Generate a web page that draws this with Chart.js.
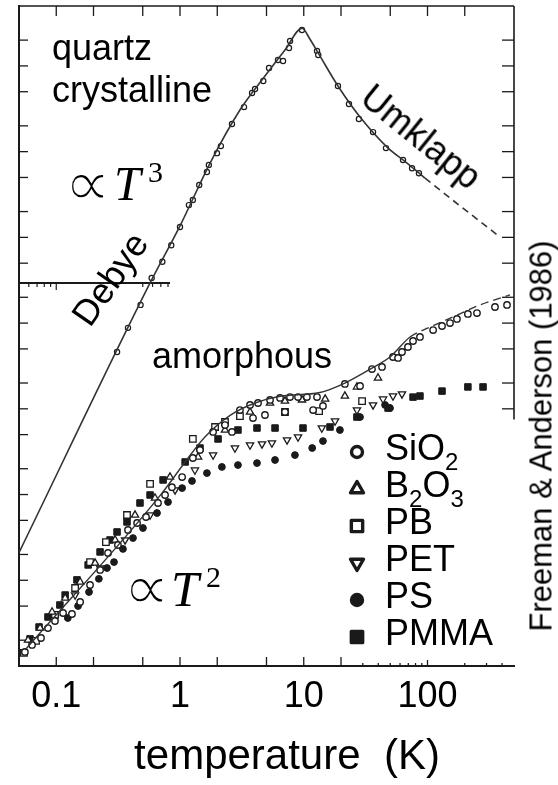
<!DOCTYPE html>
<html><head><meta charset="utf-8">
<script src="https://cdn.jsdelivr.net/npm/chart.js@4.4.0/dist/chart.umd.min.js"></script>
<style>
html,body{margin:0;padding:0;background:#fff;}
#wrap{position:relative;width:558px;height:785px;overflow:hidden;font-family:'Liberation Sans',Arial,sans-serif;color:#000;}
#c{position:absolute;left:0;top:0;}
.t{position:absolute;white-space:nowrap;font-size:36px;line-height:36px;}
.r{position:absolute;white-space:nowrap;line-height:1;transform-origin:50% 50%;}
.sym{position:absolute;white-space:nowrap;font-family:'DejaVu Sans',sans-serif;font-size:66px;line-height:66px;-webkit-text-stroke:2px #fff;}
.mt{position:absolute;white-space:nowrap;font-family:'Liberation Serif',serif;font-style:italic;}
.sp{position:absolute;white-space:nowrap;font-family:'Liberation Serif',serif;font-size:30px;line-height:30px;}
sub{font-size:24px;line-height:0;vertical-align:-10px;}
</style></head><body>
<div id="wrap">
<canvas id="c" width="558" height="785"></canvas>
<div class="t" style="left:52px;top:30px">quartz</div>
<div class="t" style="left:52px;top:72px">crystalline</div>
<div class="sym" style="left:64px;top:151px">∝</div>
<div class="mt" style="left:114px;top:160px;font-size:48px;line-height:48px">T</div>
<div class="sp" style="left:148px;top:157px">3</div>
<div class="r" style="left:110px;top:279px;font-size:36px;transform:translate(-50%,-50%) rotate(-55deg)">Debye</div>
<div class="r" style="left:421px;top:137px;font-size:36px;transform:translate(-50%,-50%) rotate(39deg)">Umklapp</div>
<div class="t" style="left:152px;top:338px">amorphous</div>
<div class="sym" style="left:123px;top:555px">∝</div>
<div class="mt" style="left:171px;top:564px;font-size:50px;line-height:50px">T</div>
<div class="sp" style="left:206px;top:562px">2</div>
<div class="t" style="left:385px;top:430px">SiO<sub>2</sub></div>
<div class="t" style="left:385px;top:467px">B<sub>2</sub>O<sub>3</sub></div>
<div class="t" style="left:385px;top:504px">PB</div>
<div class="t" style="left:385px;top:541px">PET</div>
<div class="t" style="left:385px;top:578px">PS</div>
<div class="t" style="left:385px;top:615px">PMMA</div>
<div class="r" style="left:541px;top:436px;font-size:31px;transform:translate(-50%,-50%) rotate(-90deg)">Freeman &amp; Anderson (1986)</div>
</div>
<script>
// ---- axis ticks / labels ----
const xTickValues = [0.1, 1, 10, 100];
const xTickLabels = ['0.1', '1', '10', '100'];
const axisTitle = 'temperature  (K)';

// ---- crystalline quartz: measured points ----
const quartzT = [0.31,0.38,0.48,0.59,0.72,0.85,1.0,1.18,1.27,1.43,1.65,1.71,1.99,2.14,2.63,3.29,3.82,4.04,4.71,5.24,6.19,6.80,7.60,7.75,9.68,12.8,13.1,18.9,23.2,27.9,36.3,46.2,63.4,75,85.3];
const quartzK = [0.46,0.88,1.63,3.36,5.2,8.1,13.2,23.8,27.3,40.8,58,70,96,116,210,331,483,537,667,944,1172,1140,1618,1950,2620,1492,1340,583,359,240,169,110,80,64,56];
// crystalline quartz: curve
const quartzFitT = [0.05,0.573,1.0,1.75,3.05,4.86,7.05,9.7,11.2,13.1,18.9,28.5,47.1,68.3,95.4,385];
const quartzFitK = [0.0021,2.94,13.6,73.6,306,762,1532,2750,2060,1413,583,253,113,73.6,49.2,10.1];

// ---- amorphous SiO2 curve ----
const glassFitT = [0.0559,0.716,1.10,1.59,2.54,4.04,6.43,13.5,21.5,35.6,49.8,72.2,105,161,266,464];
const glassFitK = [1.54e-4,0.0104,0.024,0.047,0.084,0.117,0.140,0.155,0.200,0.299,0.402,0.689,0.90,1.18,1.63,2.13];

// ---- amorphous solids: measured points ----
const sio2T = [0.0558,0.0637,0.0753,0.0857,0.0977,0.1135,0.134,0.156,0.1875,0.226,0.262,0.315,0.380,0.450,0.531,0.664,0.757,0.861,1.04,1.27,1.45,1.85,2.31,2.63,3.05,3.68,3.89,4.27,4.86,5.34,6.43,7.05,7.74,8.99,10.6,11.9,12.8,14.3,21.5,28.5,35.6,42.9,52.6,57.8,62.2,69.5,76.4,86.9,111,131,152,173,212,251,351,439];
const sio2K = [1.46e-4,1.76e-4,2.12e-4,2.77e-4,3.35e-4,4.15e-4,4.04e-4,5.58e-4,8.81e-4,1.32e-3,2.08e-3,2.58e-3,3.86e-3,4.66e-3,5.47e-3,7.97e-3,9.88e-3,1.22e-2,1.60e-2,2.67e-2,3.31e-2,5.37e-2,6.47e-2,5.37e-2,9.68e-2,0.111,7.81e-2,0.117,8.47e-2,0.127,0.134,9.18e-2,0.137,0.137,0.137,9.68e-2,0.137,0.108,0.195,0.185,0.291,0.308,0.402,0.392,0.460,0.526,0.618,0.689,0.830,0.925,1.00,1.12,1.28,1.31,1.54,1.63];
const b2o3T = [0.0592,0.0740,0.0925,0.118,0.156,0.206,0.299,0.433,0.628,0.830,1.40,2.31,3.68,5.34,7.05,9.68,14.9,21.5,26.9,39.8];
const b2o3K = [2.01e-4,2.77e-4,4.27e-4,6.21e-4,9.55e-4,1.59e-3,2.95e-3,5.77e-3,9.12e-3,1.60e-2,2.74e-2,5.66e-2,9.18e-2,0.117,0.123,0.127,0.130,0.141,0.180,0.229];
const pbT = [0.0548,0.0686,0.0977,0.142,0.1875,0.252,0.373,0.573,1.27,1.92,2.31,3.05,7.05,13.3,29.6];
const pbK = [1.42e-4,1.96e-4,3.94e-4,8.13e-4,1.63e-3,2.79e-3,5.77e-3,1.33e-2,4.45e-2,6.14e-2,7.02e-2,8.24e-2,9.18e-2,9.42e-2,0.123];
const petT = [0.0673,0.0977,0.142,0.226,0.360,0.573,0.912,1.32,1.85,2.78,3.68,4.60,5.53,7.33,8.99,14.0,17.9,26.9,36.3,43.7,52.6,62.2];
const petK = [2.01e-4,3.63e-4,6.73e-4,1.39e-3,2.95e-3,5.77e-3,1.13e-2,1.93e-2,2.89e-2,3.49e-2,3.78e-2,3.89e-2,3.99e-2,4.33e-2,4.69e-2,5.97e-2,7.21e-2,9.68e-2,0.111,0.130,0.141,0.149];
const psT = [0.124,0.150,0.184,0.221,0.257,0.293,0.346,0.417,0.502,0.652,0.800,1.04,1.25,1.65,2.18,2.94,4.19,5.86,8.49,11.7,14.3,19.6,28.5,45.4,49.8];
const psK = [3.63e-4,5.01e-4,7.30e-4,1.04e-3,1.39e-3,1.63e-3,2.32e-3,3.11e-3,4.07e-3,6.09e-3,8.18e-3,1.19e-2,1.44e-2,1.78e-2,2.10e-2,2.21e-2,2.33e-2,2.53e-2,2.89e-2,3.49e-2,4.21e-2,5.66e-2,8.02e-2,0.111,0.102];
const pmmaT = [0.0614,0.0726,0.0857,0.107,0.118,0.147,0.181,0.226,0.272,0.310,0.373,0.475,0.573,0.730,1.10,1.45,2.03,2.94,4.19,5.86,9.86,16.3,26.9,48.0,76.4,86.9,131,212,281];
const pmmaK = [2.07e-4,2.85e-4,3.73e-4,5.15e-4,6.73e-4,1.01e-3,1.51e-3,2.14e-3,2.95e-3,3.66e-3,4.79e-3,7.97e-3,9.88e-3,1.48e-2,2.40e-2,3.49e-2,4.45e-2,5.66e-2,5.97e-2,5.97e-2,5.97e-2,6.14e-2,8.02e-2,0.102,0.137,0.141,0.161,0.180,0.180];

// ---- frame decorations (axis tick positions) ----
const yFrameTicks = [1e-4,2e-4,5e-4,1e-3,2e-3,5e-3,1e-2,2e-2,5e-2,0.1,0.2,0.5,1,2,5,10,20,50,100,200,500,1000,2000];
const xTopTicks = [0.1,0.2,0.5,1,2,5,10,20,50,100,200];
const xBottomTicks = [0.1,0.2,0.5,1,2,5,10,20];
const xBottomMinor = [30,40,50,60,70,80,90,100,200,300,400];
const rightAxisEndK = 0.075;
const panelAxisK = 2.94, panelAxisEndT = 0.83;
const panelMinor = [0.06,0.07,0.08,0.09,0.1,0.5,0.6,0.7,0.8];

const pts = (xs, ys) => xs.map((x, i) => ({x: x, y: ys[i]}));
const INK = '#1a1a1a';

function mark(ctx, style, x, y, r, rot, filled, lw) {
  ctx.save(); ctx.translate(x, y); ctx.rotate((rot || 0) * Math.PI / 180); ctx.beginPath();
  if (style === 'circle') ctx.arc(0, 0, r, 0, 2 * Math.PI);
  else if (style === 'rect') { const s = r / Math.SQRT2; ctx.rect(-s, -s, 2 * s, 2 * s); }
  else { for (let i = 0; i < 3; i++) { const a = i * 2 * Math.PI / 3; const px = Math.sin(a) * r, py = -Math.cos(a) * r; if (i) ctx.lineTo(px, py); else ctx.moveTo(px, py); } ctx.closePath(); }
  ctx.fillStyle = filled ? INK : '#fff'; ctx.fill();
  ctx.lineWidth = lw; ctx.lineJoin = 'round'; ctx.strokeStyle = INK; ctx.stroke(); ctx.restore();
}

const framePlugin = {
  id: 'frame',
  beforeDatasetsDraw(chart) {
    const {ctx, chartArea: a, scales: {x, y}} = chart;
    const L = (x1, y1, x2, y2) => { ctx.beginPath(); ctx.moveTo(x1, y1); ctx.lineTo(x2, y2); ctx.stroke(); };
    ctx.save(); ctx.strokeStyle = INK; ctx.lineWidth = 1.6;
    L(a.left, a.top, a.right, a.top);
    const yEnd = y.getPixelForValue(rightAxisEndK);
    L(a.right, a.top, a.right, yEnd);
    ctx.lineWidth = 1.3;
    yFrameTicks.forEach(v => {
      const py = y.getPixelForValue(v);
      if (py < a.top + 2 || py > a.bottom - 2) return;
      L(a.left, py, a.left + 9, py);
      if (py <= yEnd) L(a.right - 12, py, a.right, py);
    });
    xTopTicks.forEach(v => { const px = x.getPixelForValue(v); L(px, a.top, px, a.top + 10); });
    xBottomTicks.forEach(v => { const px = x.getPixelForValue(v); L(px, a.bottom, px, a.bottom - 9); });
    xBottomMinor.forEach(v => { const px = x.getPixelForValue(v); L(px, a.bottom, px, a.bottom - (v === 100 ? 6 : 3)); });
    const pyMid = y.getPixelForValue(panelAxisK);
    ctx.lineWidth = 2;
    L(a.left, pyMid, x.getPixelForValue(panelAxisEndT), pyMid);
    ctx.lineWidth = 1.2;
    panelMinor.forEach(v => { const px = x.getPixelForValue(v); L(px, pyMid, px, pyMid + (v === 0.1 ? 7 : 4)); });
    ctx.restore();
  }
};

const legendX = 357;
const legendY = [452, 489, 526, 563, 600, 637];
const legendPlugin = {
  id: 'innerLegend',
  afterDatasetsDraw(chart) {
    const ctx = chart.ctx;
    const ds = chart.data.datasets.filter(d => d.inLegend);
    ds.forEach((d, i) => {
      const r = d.pointStyle === 'circle' ? 5.5 : (d.pointStyle === 'rect' ? 8 : 7.5);
      mark(ctx, d.pointStyle, legendX, legendY[i], r, d.pointRotation || 0, d.filled, 3.4);
    });
  }
};

function series(label, xs, ys, style, r, filled, rot, bw) {
  return {
    label: label, data: pts(xs, ys), showLine: false, inLegend: true, filled: filled,
    pointStyle: style, pointRadius: r, pointRotation: rot || 0, pointBorderWidth: bw,
    pointBackgroundColor: filled ? INK : '#fff', pointBorderColor: INK
  };
}

const datasets = [
  { label: 'crystalline quartz (curve)', data: pts(quartzFitT, quartzFitK), showLine: true, pointRadius: 0,
    borderColor: '#333', borderWidth: 1.6, cubicInterpolationMode: 'monotone',
    segment: { borderDash: c => (c.p0.parsed.x >= 90 ? [7, 5] : undefined) } },
  { label: 'amorphous SiO2 (curve)', data: pts(glassFitT, glassFitK), showLine: true, pointRadius: 0,
    borderColor: '#333', borderWidth: 1.4, cubicInterpolationMode: 'monotone',
    segment: { borderDash: c => (c.p0.parsed.x >= 72 ? [8, 5] : undefined) } },
  { label: 'crystalline quartz', data: pts(quartzT, quartzK), showLine: false, pointStyle: 'circle',
    pointRadius: 2.6, pointBorderWidth: 1.2, pointBackgroundColor: '#fff', pointBorderColor: INK },
  series('SiO2', sio2T, sio2K, 'circle', 3.2, false, 0, 1.4),
  series('B2O3', b2o3T, b2o3K, 'triangle', 4.2, false, 0, 1.3),
  series('PB', pbT, pbK, 'rect', 4.6, false, 0, 1.3),
  series('PET', petT, petK, 'triangle', 4.2, false, 180, 1.3),
  series('PS', psT, psK, 'circle', 3.4, true, 0, 1),
  series('PMMA', pmmaT, pmmaK, 'rect', 4.6, true, 0, 1)
];

Chart.defaults.font.family = "'Liberation Sans', Arial, sans-serif";
Chart.defaults.color = '#000';

new Chart(document.getElementById('c'), {
  type: 'scatter',
  data: { datasets: datasets },
  options: {
    responsive: false, animation: false, devicePixelRatio: 1,
    layout: { padding: { top: 6, left: 16, right: 0, bottom: 0 } },
    plugins: {
      legend: { display: false }, tooltip: { enabled: false },
      title: { display: true, position: 'bottom', text: axisTitle, color: '#000',
               font: { size: 42, weight: 'normal' }, padding: { top: 0, bottom: 2 } }
    },
    scales: {
      x: { type: 'logarithmic', position: 'bottom', min: 0.05, max: 500,
           afterBuildTicks: s => { s.ticks = xTickValues.map(v => ({ value: v })); },
           afterFit: s => { s.height = 66.6; },
           grid: { display: false, drawTicks: false },
           border: { display: true, color: INK, width: 2 },
           ticks: { autoSkip: false, maxRotation: 0, minRotation: 0, padding: 9, color: '#000',
                    font: { size: 36 }, callback: (v, i) => xTickLabels[i] } },
      y: { type: 'logarithmic', position: 'left', min: 1e-4, max: 5000,
           afterFit: s => { s.width = 3; },
           grid: { display: false, drawTicks: false },
           border: { display: true, color: INK, width: 2 },
           ticks: { display: false } },
      y2: { type: 'logarithmic', position: 'right', min: 1e-4, max: 5000,
            afterFit: s => { s.width = 44; },
            grid: { display: false, drawTicks: false },
            border: { display: false },
            ticks: { display: false } }
    }
  },
  plugins: [framePlugin, legendPlugin]
});
</script>
</body></html>
